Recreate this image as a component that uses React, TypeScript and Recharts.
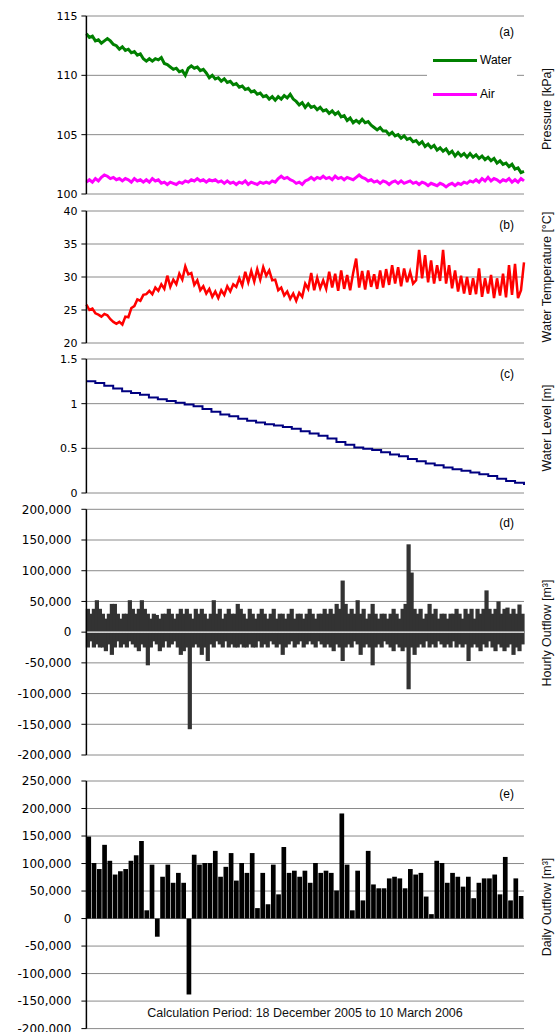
import React from 'react';
import {
  LineChart, Line, BarChart, Bar, XAxis, YAxis, CartesianGrid, Legend, ReferenceLine,
} from 'recharts';

// ---------- data ----------
// (a) pressure [kPa], ~every 3 px across the calculation period
const waterPressure = [
  113.5, 113.2, 113.3, 112.9, 113.0, 112.7, 112.9, 113.1, 112.9, 112.6,
  112.5, 112.2, 112.4, 112.1, 112.2, 111.9, 112.0, 111.7, 111.8, 111.4,
  111.2, 111.4, 111.2, 111.4, 111.3, 111.5, 111.0, 110.9, 110.7, 110.5,
  110.6, 110.3, 110.4, 110.0, 110.6, 110.8, 110.6, 110.7, 110.4, 110.5,
  110.2, 109.8, 110.0, 109.7, 109.8, 109.5, 109.7, 109.4, 109.5, 109.2,
  109.3, 109.0, 109.1, 108.8, 108.9, 108.6, 108.7, 108.4, 108.5, 108.2,
  108.3, 108.0, 108.2, 107.9, 108.2, 108.0, 108.3, 108.1, 108.4, 108.0,
  107.8, 107.5, 107.7, 107.3, 107.6, 107.3, 107.4, 107.1, 107.3, 107.0,
  107.1, 106.8, 107.0, 106.7, 106.9, 106.5, 106.6, 106.2, 106.4, 106.0,
  106.2, 106.0, 106.3, 106.0, 106.1, 105.8, 105.6, 105.4, 105.6, 105.3,
  105.3, 105.0, 105.2, 104.9, 105.0, 104.7, 104.9, 104.6, 104.7, 104.4,
  104.5, 104.2, 104.4, 104.0, 104.2, 103.9, 104.1, 103.7, 103.9, 103.6,
  103.8, 103.4, 103.6, 103.2, 103.5, 103.2, 103.4, 103.1, 103.4, 103.1,
  103.3, 103.0, 103.2, 102.9, 103.1, 102.8, 103.0, 102.6, 102.8, 102.5,
  102.6, 102.3, 102.5, 102.1, 102.2, 101.8, 101.9,
];
const airPressure = [
  101.0, 101.2, 101.0, 101.3, 101.1, 101.4, 101.6, 101.5, 101.3, 101.4,
  101.2, 101.3, 101.1, 101.3, 101.2, 101.0, 101.3, 101.1, 101.2, 101.0,
  101.2, 101.0, 101.3, 101.1, 101.2, 100.9, 101.0, 100.8, 101.0, 100.9,
  100.8, 101.0, 100.9, 101.1, 101.0, 101.2, 101.1, 101.3, 101.1, 101.2,
  101.0, 101.2, 101.1, 101.2, 101.0, 101.1, 100.9, 101.1, 100.9, 101.0,
  100.8, 101.0, 100.9, 101.1, 100.8, 101.0, 100.9, 100.8, 101.0, 100.9,
  101.0, 100.9, 101.1, 101.0, 101.3, 101.5, 101.3, 101.4, 101.2, 101.1,
  100.9, 101.0, 100.8, 101.1, 101.2, 101.4, 101.2, 101.4, 101.3, 101.5,
  101.3, 101.4, 101.2, 101.5, 101.3, 101.4, 101.2, 101.4, 101.3, 101.2,
  101.4, 101.6, 101.4, 101.3, 101.1, 101.2, 101.0, 101.1, 100.9, 101.1,
  101.0, 100.8, 101.0, 101.1, 100.9, 101.1, 100.9, 101.0, 101.1, 100.9,
  101.0, 100.8, 101.0, 100.9, 100.7, 100.9, 100.8, 100.7, 100.9, 100.8,
  100.6, 100.8, 100.9, 100.7, 100.9, 100.8, 101.0, 100.9, 101.1, 101.0,
  101.2, 101.0, 101.3, 101.1, 101.4, 101.1, 101.3, 101.2, 101.0, 101.2,
  101.1, 101.3, 101.0, 101.2, 101.0, 101.3, 101.1,
];
// (b) water temperature [°C]
const waterTemperature = [
  25.8, 25.0, 25.2, 24.5, 24.3, 24.0, 24.4, 24.2, 23.6, 23.2,
  22.9, 23.2, 22.8, 24.0, 23.9, 25.3, 25.6, 26.6, 26.4, 27.3,
  27.4, 27.9, 27.4, 28.4, 27.9, 28.9, 28.2, 30.2, 28.5, 29.6,
  28.9, 30.5, 29.6, 31.6, 30.4, 30.6, 28.8, 29.5, 28.0, 28.6,
  27.5, 28.2, 27.0, 27.8, 26.8, 28.0, 27.3, 28.6, 27.8, 28.9,
  28.5, 29.8, 28.7, 30.8, 29.2, 30.9, 29.3, 31.2, 29.6, 31.5,
  30.2, 31.0, 29.5, 29.6, 28.0, 28.4, 27.2, 27.8, 26.7, 27.5,
  26.4, 27.6, 27.0, 29.0, 28.2, 30.6, 28.0, 29.9, 28.3, 29.5,
  28.2, 30.8, 28.4, 30.5, 27.9, 31.0, 28.2, 30.3, 28.0, 30.6,
  32.8, 28.4, 30.9, 28.1, 31.0, 28.5, 30.4, 28.2, 31.0, 28.4,
  31.2, 28.8, 31.8, 29.0, 31.5, 28.6, 31.3, 29.2, 30.8, 29.0,
  29.5, 34.1, 29.8, 33.3, 29.2, 32.5, 29.0, 31.8, 29.4, 34.1,
  29.0, 31.8, 28.3, 31.0, 27.8, 30.2, 27.5, 30.0, 27.3, 29.8,
  27.4, 31.3, 27.0, 29.8, 27.5, 30.3, 26.8, 29.8, 27.2, 30.5,
  26.9, 31.8, 27.3, 32.0, 26.8, 28.0, 32.2,
];
// (c) water level [m]
const waterLevel = [
  1.25, 1.23, 1.2, 1.17, 1.14, 1.12, 1.1, 1.07, 1.05, 1.03,
  1.01, 0.99, 0.97, 0.94, 0.91, 0.88, 0.86, 0.83, 0.81, 0.79,
  0.77, 0.755, 0.74, 0.72, 0.69, 0.665, 0.64, 0.61, 0.57, 0.54,
  0.51, 0.495, 0.48, 0.455, 0.43, 0.41, 0.38, 0.355, 0.33, 0.31,
  0.285, 0.265, 0.25, 0.23, 0.21, 0.19, 0.16, 0.135, 0.115, 0.09,
];
// (d) hourly outflow envelope [thousand m³] per short time bin
const hourlyOutflowHigh = [
  38, 30, 38, 52, 38, 30, 22, 30, 46, 46,
  30, 22, 30, 30, 52, 38, 30, 38, 52, 38,
  30, 22, 30, 28, 22, 30, 30, 38, 30, 22,
  30, 38, 30, 38, 30, 22, 38, 30, 38, 30,
  22, 30, 52, 30, 38, 22, 30, 38, 30, 30,
  46, 38, 30, 22, 38, 30, 22, 30, 38, 30,
  22, 30, 38, 22, 30, 30, 22, 30, 38, 22,
  30, 30, 22, 30, 38, 30, 22, 30, 30, 38,
  30, 38, 30, 46, 38, 84, 46, 30, 38, 30,
  52, 30, 38, 22, 30, 46, 30, 22, 30, 30,
  22, 30, 38, 30, 22, 38, 46, 143, 97, 38,
  30, 38, 22, 30, 46, 30, 38, 22, 30, 30,
  22, 30, 30, 38, 30, 22, 38, 30, 38, 22,
  38, 30, 38, 68, 38, 30, 38, 50, 30, 38,
  40, 30, 38, 30, 45, 30,
];
const hourlyOutflowLow = [
  -25, -15, -25, -20, -25, -25, -31, -20, -37, -25,
  -15, -25, -20, -25, -15, -20, -25, -31, -20, -25,
  -54, -25, -15, -20, -31, -25, -15, -25, -20, -15,
  -25, -37, -31, -25, -158, -25, -20, -25, -37, -25,
  -47, -20, -25, -15, -20, -25, -15, -25, -20, -25,
  -25, -20, -25, -25, -20, -25, -25, -15, -25, -20,
  -25, -15, -20, -25, -20, -37, -25, -20, -15, -25,
  -20, -15, -25, -20, -15, -20, -25, -15, -20, -25,
  -20, -25, -31, -20, -25, -47, -25, -20, -25, -15,
  -20, -37, -25, -20, -25, -54, -25, -20, -25, -15,
  -20, -25, -31, -20, -25, -31, -25, -93, -25, -37,
  -25, -20, -25, -15, -25, -20, -25, -15, -20, -25,
  -20, -25, -15, -25, -20, -25, -20, -47, -25, -20,
  -25, -31, -20, -25, -15, -25, -31, -20, -25, -31,
  -25, -20, -37, -25, -31, -20,
];
// (e) daily outflow [m³], 18 Dec 2005 – 10 Mar 2006
const dailyOutflow = [
  149000, 101000, 90000, 134000, 105000, 80000, 86000, 90000, 105000, 115000,
  141000, 15000, 98000, -33000, 76000, 98000, 65000, 83000, 65000, -138000,
  116000, 98000, 101000, 101000, 123000, 76000, 94000, 119000, 69000, 101000,
  83000, 119000, 19000, 83000, 26000, 98000, 44000, 130000, 83000, 87000,
  76000, 87000, 65000, 101000, 83000, 87000, 83000, 51000, 191000, 98000,
  15000, 87000, 33000, 123000, 62000, 55000, 55000, 73000, 76000, 73000,
  55000, 90000, 80000, 83000, 40000, 8000, 105000, 101000, 65000, 83000,
  76000, 58000, 76000, 37000, 65000, 73000, 73000, 80000, 44000, 112000,
  33000, 73000, 41000,
];

const pressureTicks = [100, 105, 110, 115];
const temperatureTicks = [20, 25, 30, 35, 40];
const levelTicks = [0, 0.5, 1, 1.5];
const hourlyTicks = [-200000, -150000, -100000, -50000, 0, 50000, 100000, 150000, 200000];
const dailyTicks = [-200000, -150000, -100000, -50000, 0, 50000, 100000, 150000, 200000, 250000];

const legendOrder = ['Water', 'Air'];
const panelLabels = ['(a)', '(b)', '(c)', '(d)', '(e)'];
const sideTitles = ['Pressure [kPa]', 'Water Temperature [°C]', 'Water Level [m]', 'Hourly Outflow [m³]', 'Daily Outflow [m³]'];
const periodNote = 'Calculation Period: 18 December 2005 to 10 March 2006';

// ---------- tables for the library ----------
const pressureRows = waterPressure.map((w, t) => ({ t, water: w, air: airPressure[t] }));
const temperatureRows = waterTemperature.map((v, t) => ({ t, temp: v }));
const levelRows = waterLevel.map((v, t) => ({ t, level: v }));
const hourlyRows = hourlyOutflowHigh.map((h, i) => ({ i, high: h * 1000, low: hourlyOutflowLow[i] * 1000 }));
const dailyRows = dailyOutflow.map((v, i) => ({ i, flow: v }));

// ---------- styles ----------
const CHART_W = 560;
const AXIS_W = 86.4;
const RIGHT_M = 36;
const FRAME = { stroke: '#000', strokeWidth: 1.5 };
const tickA = { fill: '#000', fontSize: 11, fontFamily: 'DejaVu Sans' };
const tickD = { fill: '#000', fontSize: 12, fontFamily: 'DejaVu Sans' };
const fmt = (v: number) => v.toLocaleString('en-US');

function frameParts() {
  return [
    <XAxis key="fb" xAxisId="fb" type="number" domain={[0, 1]} orientation="bottom" height={0} tick={false} tickLine={false} axisLine={FRAME} />,
    <XAxis key="ft" xAxisId="ft" type="number" domain={[0, 1]} orientation="top" height={0} tick={false} tickLine={false} axisLine={FRAME} />,
    <YAxis key="fr" yAxisId="fr" type="number" domain={[0, 1]} orientation="right" width={0} tick={false} tickLine={false} axisLine={FRAME} />,
  ];
}

// hourly bins are contiguous: widen each bar slightly so no white seams remain
const SolidBar = (p: any) => {
  if (p.width == null || p.height == null) return null;
  const y = Math.min(p.y, p.y + p.height);
  const h = Math.abs(p.height);
  return <rect x={p.x - 0.6} y={y} width={p.width + 1.2} height={h} fill={p.fill} />;
};

const PressureLegend = (props: any) => {
  const payload = [...(props.payload || [])].sort(
    (a: any, b: any) => legendOrder.indexOf(a.value) - legendOrder.indexOf(b.value),
  );
  return (
    <div style={{ background: '#fff', width: 90, height: 70, position: 'relative' }}>
      {payload.map((p: any, k: number) => (
        <div key={k} style={{ position: 'absolute', left: 6, top: 11 + k * 34, display: 'flex', alignItems: 'center', height: 14 }}>
          <span style={{ display: 'inline-block', width: 44, height: 3, background: p.color }} />
          <span style={{ marginLeft: 3, font: '12px "Liberation Sans"', color: '#000' }}>{p.value}</span>
        </div>
      ))}
    </div>
  );
};

const abs = (top: number, h: number): React.CSSProperties => ({ position: 'absolute', left: 0, top, width: CHART_W, height: h });

export default function App() {
  const labelTops = [32, 225, 374, 523, 794];
  const titleYs = [109, 277, 428, 633, 907];
  return (
    <div style={{ position: 'absolute', left: 0, top: 0, width: 560, height: 1032, overflow: 'hidden', background: '#fff', fontFamily: '"Liberation Sans", Arial, sans-serif' }}>
      {/* (e) Daily outflow */}
      <div style={abs(770, 270)}>
        <BarChart width={CHART_W} height={270} data={dailyRows} barSize={4.7} margin={{ top: 11, right: RIGHT_M, bottom: 11.4, left: 0 }}>
          <CartesianGrid vertical={false} stroke="#8a8a8a" />
          <XAxis dataKey="i" hide />
          <YAxis domain={[-200000, 250000]} ticks={dailyTicks} interval={0} width={AXIS_W} tick={tickD} tickFormatter={fmt} tickSize={5} tickMargin={10} tickLine={{ stroke: '#000' }} axisLine={FRAME} />
          {frameParts()}
          <Bar dataKey="flow" fill="#000000" isAnimationActive={false} />
        </BarChart>
      </div>

      {/* (d) Hourly outflow */}
      <div style={abs(500, 270)}>
        <BarChart width={CHART_W} height={270} data={hourlyRows} stackOffset="sign" barCategoryGap={0} barGap={0} margin={{ top: 9.3, right: RIGHT_M, bottom: 15, left: 0 }}>
          <CartesianGrid vertical={false} stroke="#8a8a8a" />
          <XAxis dataKey="i" hide />
          <YAxis domain={[-200000, 200000]} ticks={hourlyTicks} interval={0} width={AXIS_W} tick={tickD} tickFormatter={fmt} tickSize={5} tickMargin={10} tickLine={{ stroke: '#000' }} axisLine={FRAME} />
          {frameParts()}
          <Bar dataKey="high" stackId="h" fill="#333333" shape={SolidBar} isAnimationActive={false} />
          <Bar dataKey="low" stackId="h" fill="#333333" shape={SolidBar} isAnimationActive={false} />
          <ReferenceLine y={0} stroke="#ffffff" strokeWidth={1.2} />
        </BarChart>
      </div>

      {/* (c) Water level */}
      <div style={abs(350, 150)}>
        <LineChart width={CHART_W} height={150} data={levelRows} margin={{ top: 9, right: RIGHT_M, bottom: 7, left: 0 }}>
          <CartesianGrid vertical={false} stroke="#8a8a8a" />
          <XAxis dataKey="t" type="number" domain={[0, 49]} hide />
          <YAxis domain={[0, 1.5]} ticks={levelTicks} interval={0} width={AXIS_W} tick={tickA} tickSize={5} tickMargin={4} tickLine={{ stroke: '#000' }} axisLine={FRAME} />
          {frameParts()}
          <Line type="stepAfter" dataKey="level" name="Water Level" stroke="#000080" strokeWidth={2} dot={false} activeDot={false} isAnimationActive={false} />
        </LineChart>
      </div>

      {/* (b) Water temperature */}
      <div style={abs(200, 150)}>
        <LineChart width={CHART_W} height={150} data={temperatureRows} margin={{ top: 11, right: RIGHT_M, bottom: 7, left: 0 }}>
          <CartesianGrid vertical={false} stroke="#8a8a8a" />
          <XAxis dataKey="t" type="number" domain={[0, 146]} hide />
          <YAxis domain={[20, 40]} ticks={temperatureTicks} interval={0} width={AXIS_W} tick={tickA} tickSize={5} tickMargin={4} tickLine={{ stroke: '#000' }} axisLine={FRAME} />
          {frameParts()}
          <Line dataKey="temp" name="Water Temperature" stroke="#ff0000" strokeWidth={2.5} dot={false} activeDot={false} isAnimationActive={false} />
        </LineChart>
      </div>

      {/* (a) Pressure */}
      <div style={abs(0, 200)}>
        <LineChart width={CHART_W} height={200} data={pressureRows} margin={{ top: 16, right: RIGHT_M, bottom: 6, left: 0 }}>
          <CartesianGrid vertical={false} stroke="#8a8a8a" />
          <XAxis dataKey="t" type="number" domain={[0, 146]} hide />
          <YAxis domain={[100, 115]} ticks={pressureTicks} interval={0} width={AXIS_W} tick={tickA} tickSize={5} tickMargin={4} tickLine={{ stroke: '#000' }} axisLine={FRAME} />
          {frameParts()}
          <Line dataKey="water" name="Water" stroke="#008000" strokeWidth={3} dot={false} activeDot={false} isAnimationActive={false} />
          <Line dataKey="air" name="Air" stroke="#ff00ff" strokeWidth={3} dot={false} activeDot={false} isAnimationActive={false} />
          <Legend layout="vertical" align="center" verticalAlign="middle" content={PressureLegend} wrapperStyle={{ left: 427, top: 42, width: 90, height: 70 }} />
        </LineChart>
      </div>

      {panelLabels.map((t, k) => (
        <div key={t} style={{ position: 'absolute', right: 46, top: labelTops[k], transform: 'translateY(-50%)', font: '12px "Liberation Sans"', color: '#000' }}>{t}</div>
      ))}
      {sideTitles.map((t, k) => (
        <div key={t} style={{ position: 'absolute', left: 547, top: titleYs[k], transform: 'translate(-50%,-50%) rotate(-90deg)', whiteSpace: 'nowrap', font: '12.5px "Liberation Sans"', color: '#111' }}>{t}</div>
      ))}
      <div style={{ position: 'absolute', left: 305, top: 1013, transform: 'translate(-50%,-50%)', whiteSpace: 'nowrap', font: '12.5px "Liberation Sans"', color: '#111' }}>{periodNote}</div>
    </div>
  );
}
